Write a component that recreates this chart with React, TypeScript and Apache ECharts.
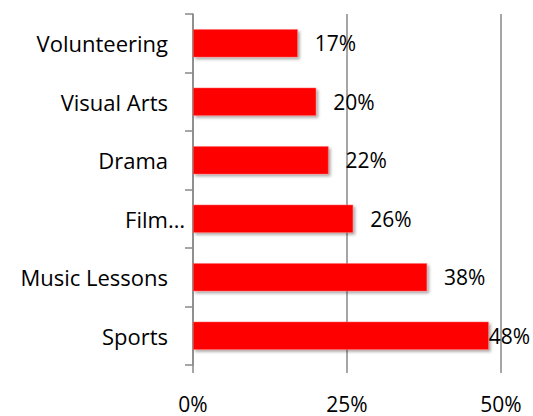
import React, { useEffect, useRef } from "react";
import * as echarts from "echarts";

const categories = ["Sports", "Music Lessons", "Film…", "Drama", "Visual Arts", "Volunteering"];
const values = [48, 38, 26, 22, 20, 17];
const xTicks = [0, 25, 50];

export default function App() {
  const ref = useRef<HTMLDivElement>(null);
  useEffect(() => {
    if (!ref.current) return;
    const chart = echarts.init(ref.current, null, { renderer: "svg" });
    const font = "'Open Sans', 'Noto Sans', sans-serif";
    chart.setOption({
      animation: false,
      backgroundColor: "#ffffff",
      grid: { left: 193, right: 32, top: 14, bottom: 51, containLabel: false },
      xAxis: {
        type: "value",
        min: xTicks[0],
        max: xTicks[xTicks.length - 1],
        interval: 25,
        axisLine: { show: false },
        axisTick: { show: true, length: 8, lineStyle: { color: "#888888", width: 1.5 } },
        splitLine: { show: true, lineStyle: { color: "#888888", width: 1.5 } },
        axisLabel: {
          formatter: (v: number) => `${v}%`,
          fontFamily: font,
          fontSize: 21,
          color: "#000000",
          margin: 28,
        },
      },
      yAxis: {
        type: "category",
        data: categories.map((c) =>
          c.endsWith("…") ? c : { value: c, textStyle: { padding: [0, 17, 0, 0] } }
        ),
        axisLine: { show: true, lineStyle: { color: "#888888", width: 1.5 } },
        axisTick: { show: true, length: 8, lineStyle: { color: "#888888", width: 1.5 } },
        axisLabel: { fontFamily: font, fontSize: 22, color: "#000000", margin: 8 },
      },
      series: [
        {
          type: "bar",
          data: values.map((v, i) =>
            i === 0 ? { value: v, label: { offset: [-17, 0] } } : v
          ),
          barWidth: "48%",
          itemStyle: {
            color: "#ff0000",
            borderColor: "#ff6a6a",
            borderWidth: 0.5,
            shadowBlur: 3,
            shadowOffsetX: 2,
            shadowOffsetY: 2,
            shadowColor: "rgba(0,0,0,0.35)",
          },
          label: {
            show: true,
            position: "right",
            distance: 17,
            formatter: (p: any) => `${p.value}%`,
            fontFamily: font,
            fontSize: 21,
            color: "#000000",
          },
        },
      ],
    });
    return () => chart.dispose();
  }, []);
  return <div ref={ref} style={{ width: 533, height: 416, position: "absolute", left: 0, top: 0 }} />;
}
